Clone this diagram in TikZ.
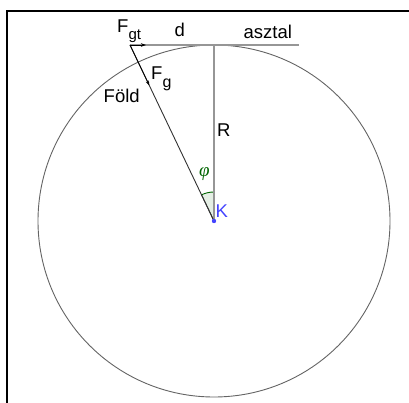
\documentclass[tikz,border=0pt]{standalone}
\usepackage{fontspec}
\setmainfont{Liberation Sans}
\newfontfamily\phifont{Liberation Serif}
\usetikzlibrary{arrows.meta,calc}
\definecolor{lgray}{RGB}{150,150,150}
\definecolor{cgray}{RGB}{100,100,100}
\definecolor{dline}{RGB}{50,50,50}
\definecolor{angg}{RGB}{0,100,0}
\definecolor{kblue}{RGB}{68,68,255}
\begin{document}
\begin{tikzpicture}[x=1pt,y=1pt,
  lbl/.style={inner sep=0pt, anchor=base west, font=\fontsize{18.5}{20}\selectfont},
  frame/.style={line width=2pt, black},
  grayline/.style={line width=1.4pt, lgray},
  circ/.style={line width=0.9pt, cgray},
  darkline/.style={line width=0.9pt, dline},
  vec/.style={line width=0.8pt, black, -{Stealth[length=5pt,width=3.5pt]}},
  angarc/.style={line width=0.9pt, angg},
  angfill/.style={fill=angg!10}]
\useasboundingbox (0,0) rectangle (409,-403);
\coordinate (K) at (214,-221);
\coordinate (T) at (214,-45);
\coordinate (A) at (130,-45);
\coordinate (E) at (299,-45);
\coordinate (Fgtend) at (146,-45);
\coordinate (Fgend) at ($(A)!45pt!(K)$);
\coordinate (FBL) at (6.5,-403);
\coordinate (FTL) at (6.5,-11.5);
\coordinate (FTR) at (409,-11.5);
% frame
\draw[frame] (FBL) -- (FTL) -- (FTR);
% angle
\fill[angfill] (K) -- ++(90:29) arc[start angle=90,end angle=115.5,radius=29] -- cycle;
\draw[angarc] (K) ++(90:29) arc[start angle=90,end angle=115.5,radius=29];
\draw[darkline] (K) -- ++(115.5:29);
% earth
\draw[circ] (K) circle[radius=176];
% table and radius
\draw[grayline] (A) -- (E);
\draw[grayline] (T) -- (K);
% slanted line
\draw[darkline] (A) -- (K);
% vectors
\draw[vec] (A) -- (Fgtend);
\draw[vec] (A) -- (Fgend);
% centre
\fill[kblue] (K) circle[radius=2.2];
% labels
\node[lbl] (lFgt) at (117,-33) {F\raisebox{-7pt}{\fontsize{15}{15}\selectfont gt}};
\node[lbl] (ld) at (174.5,-37) {d};
\node[lbl] (lasztal) at (243.5,-39) {asztal};
\node[lbl] (lFg) at (151,-80) {F\raisebox{-8pt}{\fontsize{16}{16}\selectfont g}};
\node[lbl] (lFold) at (103.5,-103) {Föld};
\node[lbl] (lR) at (217,-137) {R};
\node[lbl, text=kblue] (lK) at (215.5,-218) {K};
\node[inner sep=0pt, text=angg, font=\phifont\itshape\fontsize{19}{19}\selectfont] (lphi) at (204.5,-174.5) {φ};
\end{tikzpicture}
\end{document}
